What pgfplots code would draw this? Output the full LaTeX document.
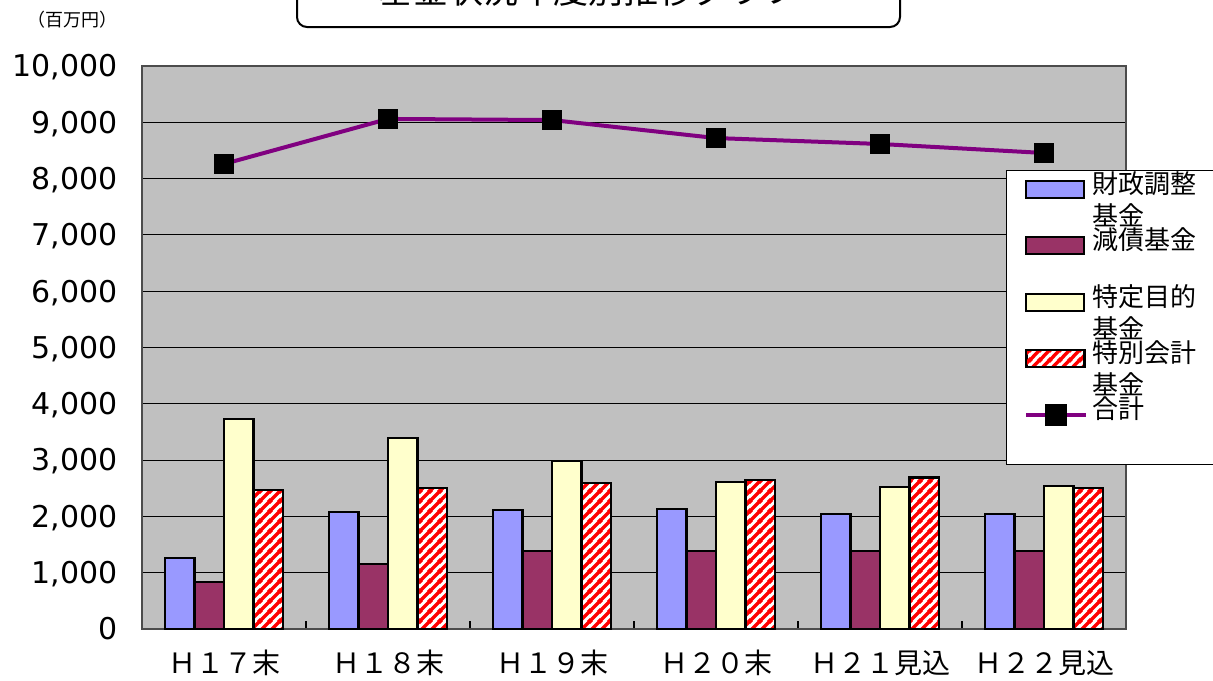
\documentclass[border=0pt]{standalone}
\usepackage{fontspec}
\usepackage{pgfplots}
\pgfplotsset{compat=1.18}
\usetikzlibrary{patterns}
\setmainfont{Noto Sans CJK JP}
\newfontfamily\numfont{DejaVu Sans}
\definecolor{cblue}{HTML}{9999FF}
\definecolor{cmaroon}{HTML}{993366}
\definecolor{cyellow}{HTML}{FFFFCC}
\definecolor{cpurple}{HTML}{800080}
\definecolor{cgray}{HTML}{C0C0C0}
\pgfdeclarepatternformonly{thickstripes}{\pgfqpoint{0pt}{0pt}}{\pgfqpoint{5pt}{5pt}}{\pgfqpoint{5pt}{5pt}}{%
  \pgfsetlinewidth{1.8pt}%
  \pgfpathmoveto{\pgfqpoint{-1pt}{-1pt}}\pgfpathlineto{\pgfqpoint{6pt}{6pt}}%
  \pgfpathmoveto{\pgfqpoint{-1pt}{4pt}}\pgfpathlineto{\pgfqpoint{1pt}{6pt}}%
  \pgfpathmoveto{\pgfqpoint{4pt}{-1pt}}\pgfpathlineto{\pgfqpoint{6pt}{1pt}}%
  \pgfusepath{stroke}%
}
\newcommand{\lentry}[1]{\smash{\parbox[t]{64pt}{\fontsize{13}{16}\selectfont #1}}}
\begin{document}
\begin{tikzpicture}
\useasboundingbox (0pt,0pt) rectangle (606.5pt,-340pt);
\clip (0pt,0pt) rectangle (606.5pt,-340pt);
\begin{axis}[
  at={(71pt,-314.5pt)}, anchor=south west,
  scale only axis, width=492pt, height=281.5pt,
  xmin=-0.5, xmax=5.5, ymin=0, ymax=10000,
  ybar, bar width=0.18,
  axis background/.style={fill=cgray},
  axis line style={draw=black!70, line width=1pt},
  ymajorgrids, major grid style={black, line width=0.5pt},
  ytick={0,1000,...,10000},
  xtick={0,...,5},
  xticklabels={Ｈ１７末,Ｈ１８末,Ｈ１９末,Ｈ２０末,Ｈ２１見込,Ｈ２２見込},
  minor xtick={0.5,1.5,2.5,3.5,4.5},
  xtick pos=left, ytick pos=left,
  major tick length=0pt, minor tick length=4pt, tick align=inside,
  tick style={black, line width=1pt},
  scaled y ticks=false,
  /pgf/number format/.cd, assume math mode=true, 1000 sep={,}, /pgfplots/.cd,
  yticklabel style={font=\numfont\fontsize{15}{15}\selectfont, anchor=base east, inner xsep=0pt, xshift=-12pt, yshift=-5.4pt},
  xticklabel style={font=\fontsize{14}{14}\selectfont, anchor=center, yshift=-17pt},
  legend style={at={(0.878,0.815)}, anchor=north west, draw=black, line width=0.5pt, fill=white,
    font=\fontsize{13}{16}\selectfont, inner xsep=9pt, inner ysep=3pt, cells={anchor=west},
    nodes={text height=8.3pt, text depth=19.9pt, inner xsep=2pt, inner ysep=0pt}},
  legend cell align=left,
  legend image code/.code={\draw[#1, line width=1pt] (0pt,3.5pt) rectangle (29pt,12pt);},
]
\addplot[bar shift=-0.27, fill=cblue, draw=black, line width=1.2pt] coordinates {(0,1260) (1,2080) (2,2110) (3,2130) (4,2045) (5,2045)};
\addlegendentry{\lentry{財政調整\\基金}}
\addplot[bar shift=-0.09, fill=cmaroon, draw=black, line width=1.2pt] coordinates {(0,835) (1,1155) (2,1385) (3,1385) (4,1385) (5,1385)};
\addlegendentry{\lentry{減債基金}}
\addplot[bar shift=0.09, fill=cyellow, draw=black, line width=1.2pt] coordinates {(0,3730) (1,3390) (2,2985) (3,2610) (4,2525) (5,2540)};
\addlegendentry{\lentry{特定目的\\基金}}
\addplot[bar shift=0.27, preaction={fill=white}, pattern=thickstripes, pattern color=red, draw=black, line width=1.2pt] coordinates {(0,2470) (1,2500) (2,2590) (3,2645) (4,2690) (5,2505)};
\addlegendentry{\lentry{特別会計\\基金}}
\addplot[sharp plot, draw=cpurple, line width=2pt, mark=square*, mark size=4.8pt, mark options={fill=black, draw=black, line width=0.4pt},
  legend image code/.code={\draw[cpurple, line width=2pt] (0pt,7.7pt) -- (30pt,7.7pt); \fill[black] (10.5pt,3.2pt) rectangle (19.5pt,12.2pt);}]
  coordinates {(0,8260) (1,9060) (2,9040) (3,8720) (4,8615) (5,8455)};
\addlegendentry{\lentry{合計}}
\end{axis}
\begin{scope}[x=0.5pt, y=-0.5pt]
\draw[rounded corners=5pt, line width=1pt, fill=white] (297,-40) rectangle (900,27);
\node[font=\fontsize{17.5}{17.5}\selectfont] at (588,-10) {基金状況年度別推移グラフ};
\node[font=\fontsize{9}{9}\selectfont] at (72,20) {（百万円）};
\end{scope}
\end{tikzpicture}
\end{document}
